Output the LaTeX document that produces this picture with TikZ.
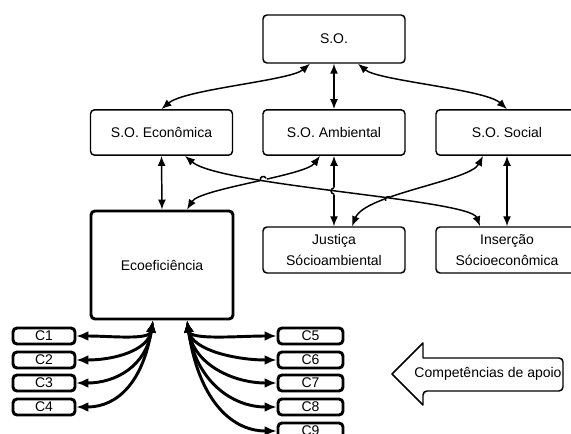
\documentclass[tikz,border=0pt]{standalone}
\usepackage{fontspec}
\setmainfont{Liberation Sans}
\usetikzlibrary{arrows.meta,calc,intersections}
\begin{document}
\begin{tikzpicture}[x=0.75pt,y=-0.75pt,
  txt/.style={font=\fontsize{10.5}{15.5}\selectfont},
  box/.style={draw, line width=1.1pt, rounded corners=3pt, align=center, inner sep=0pt,
    minimum width=106.5pt, minimum height=34pt, txt},
  cbox/.style={draw, line width=2.2pt, rounded corners=3pt, inner sep=0pt, minimum height=12pt, txt},
  link/.style={line width=1.1pt, {Latex[length=7.5pt,width=6pt]}-{Latex[length=7.5pt,width=6pt]}},
  fan/.style={line width=2.2pt, {Latex[length=9pt,width=7.5pt]}-{Latex[length=9pt,width=7.5pt]}},
  hop/.style={line width=1.1pt},
]
\useasboundingbox (0,0) rectangle (571,434);
\clip (0,0) rectangle (571,434);

% main boxes
\node[box, minimum height=36pt] (so) at (334,39) {S.O.};
\node[box] (econ) at (161.5,132.5) {S.O. Econômica};
\node[box] (amb) at (334,132.5) {S.O. Ambiental};
\node[box] (soc) at (507,132.5) {S.O. Social};
\node[box, line width=2.2pt, minimum height=81pt] (eco) at (162,265) {Ecoeficiência};
\node[box, minimum height=34.5pt] (jus) at (334,250) {Justiça\\Sócioambiental};
\node[box, minimum height=34.5pt] (ins) at (507,250) {Inserção\\Sócioeconômica};

% competence boxes
\node[cbox, minimum width=46.5pt] (c1) at (44,336) {C1};
\node[cbox, minimum width=46.5pt] (c2) at (44,360) {C2};
\node[cbox, minimum width=46.5pt] (c3) at (44,383) {C3};
\node[cbox, minimum width=46.5pt] (c4) at (44,407) {C4};
\node[cbox, minimum width=48.75pt] (c5) at (310.5,336) {C5};
\node[cbox, minimum width=48.75pt] (c6) at (310.5,360) {C6};
\node[cbox, minimum width=48.75pt] (c7) at (310.5,383) {C7};
\node[cbox, minimum width=48.75pt] (c8) at (310.5,407) {C8};
\node[cbox, minimum width=48.75pt] (c9) at (310.5,431) {C9};

% top connectors
\draw[link] ($(so.south)+(-24,0)$) .. controls +(-20,17) and +(23.5,-20) .. (econ.north);
\draw[link] (so.south) -- (amb.north);
\draw[link] ($(so.south)+(24,0)$) .. controls +(20,17) and +(-22,-20) .. (soc.north);

% middle connectors
\draw[link] (econ.south) -- (eco.north);
\draw[link] (soc.south) -- (ins.north);
\path[name path=A] ($(econ.south)+(23.5,0)$) .. controls +(35,30) and +(-10,-27) .. ($(ins.north)+(-27,0)$);
\draw[link, name path=B] ($(amb.south)+(-14,0)$) .. controls +(-15,20) and +(13,-21) .. ($(eco.north)+(25,0)$);
\draw[link, name path=C] (amb.south) -- (jus.north);
\draw[link, name path=D] ($(soc.south)+(-24,0)$) .. controls +(-13,25) and +(13,-32) .. ($(jus.north)+(18,0)$);

\path[name intersections={of=A and B, by=ab}];
\path[name intersections={of=A and C, by=ac}];
\path[name intersections={of=A and D, by=ad}];
\fill[white] (ab) circle (3.6) (ac) circle (3.6) (ad) circle (3.6);
\draw[link] ($(econ.south)+(23.5,0)$) .. controls +(35,30) and +(-10,-27) .. ($(ins.north)+(-27,0)$);
\draw[hop] ($(ab)+(157:3)$) arc (157:337:3);
\draw[hop] ($(ac)+(270:3)$) arc (270:90:3);
\draw[hop] ($(ad)+(153:3)$) arc (153:333:3);

% fans
\coordinate (fl) at ($(eco.south)+(-9,0)$);
\coordinate (fr) at ($(eco.south)+(25,0)$);
\draw[fan] (fl) .. controls +(-3,20) and +(35,0) .. (c1.east);
\draw[fan] (fl) .. controls +(-5,30) and +(38,0) .. (c2.east);
\draw[fan] (fl) .. controls +(-7,45) and +(40,0) .. (c3.east);
\draw[fan] (fl) .. controls +(-10,60) and +(42,0) .. (c4.east);
\draw[fan] (fr) .. controls +(3,20) and +(-38,0) .. (c5.west);
\draw[fan] (fr) .. controls +(5,30) and +(-40,0) .. (c6.west);
\draw[fan] (fr) .. controls +(7,45) and +(-42,0) .. (c7.west);
\draw[fan] (fr) .. controls +(9,60) and +(-45,0) .. (c8.west);
\draw[fan] (fr) .. controls +(11,75) and +(-48,0) .. (c9.west);

% competence arrow
\draw[line width=1.1pt, line join=round] (392,374) -- (423,343) -- (423,358)
  [rounded corners=3pt] -- (563,358) -- (563,391) -- (423,391)
  [sharp corners] -- (423,405) -- cycle;
\node[txt] (comp) at (488,374) {Competências de apoio};
\end{tikzpicture}
\end{document}
